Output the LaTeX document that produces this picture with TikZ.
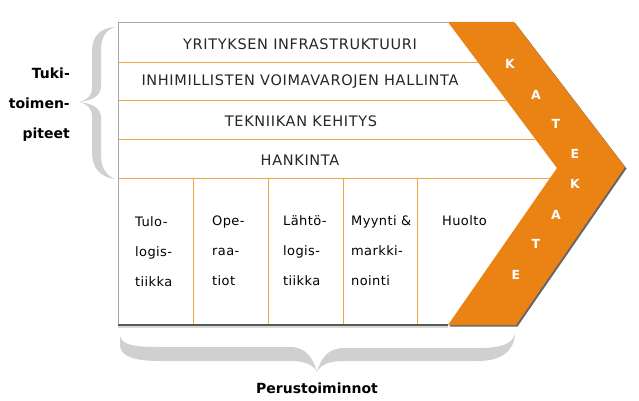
\documentclass[tikz,border=0pt]{standalone}
\usepackage{fontspec}
\setmainfont{DejaVu Sans}
\definecolor{katekorange}{RGB}{234,131,20}
\definecolor{rowline}{RGB}{240,165,70}
\definecolor{bracegray}{RGB}{208,208,208}

\begin{document}
\begin{tikzpicture}[x=1pt,y=-1pt,
    rowtext/.style={font=\fontsize{14.5}{17}\selectfont\addfontfeature{LetterSpace=4.5},text=black!85,inner sep=0pt},
    coltext/.style={font=\fontsize{13}{30}\selectfont\addfontfeature{LetterSpace=3},align=left,anchor=north west,inner sep=0pt},
    sidetext/.style={font=\fontsize{14}{30}\selectfont\bfseries,inner sep=0pt},
    katek/.style={font=\fontsize{12.5}{12.5}\selectfont\bfseries,text=white,inner sep=0pt}]
  \useasboundingbox (0,0) rectangle (639,401);

  % braces
  \fill[bracegray] (115,27) .. controls (100,28) and (92,36) .. (92,52) -- (92,88)
    .. controls (92,96) and (87,100) .. (79,102) .. controls (87,104) and (92,108) .. (92,116)
    -- (92,152) .. controls (92,168) and (100,177) .. (115,179)
    .. controls (106,175) and (101,168) .. (101,155) -- (101,118)
    .. controls (101,110) and (96,104) .. (79,102) .. controls (96,100) and (101,94) .. (101,86)
    -- (101,50) .. controls (101,37) and (106,30) .. (115,27) -- cycle;
  \fill[bracegray] (120,336) .. controls (122,345) and (134,347) .. (160,347) -- (290,347)
    .. controls (306,347) and (313,358) .. (317,372) .. controls (321,358) and (328,348) .. (344,348)
    -- (478,348) .. controls (502,348) and (512,344) .. (515,334)
    .. controls (514,352) and (500,361) .. (478,361) -- (344,361)
    .. controls (330,361) and (321,364) .. (317,372) .. controls (313,364) and (304,361) .. (290,361)
    -- (160,361) .. controls (136,361) and (121,357) .. (120,346) -- cycle;

  % box
  \draw[rowline] (118,62) -- (478,62);
  \draw[rowline] (118,100) -- (506,100);
  \draw[rowline] (118,139) -- (535,139);
  \draw[rowline] (118,178) -- (550,178);
  \foreach \x in {193,268,343,417}
    \draw[rowline] (\x,178) -- (\x,325);
  \draw[black!35] (448,22) -- (118,22) -- (118,325);
  \draw[black!15,line width=2] (118,327) -- (448,327);
  \draw[black!65,line width=1.3] (118,325) -- (448,325);

  % chevron
  \fill[black!60,shift={(1.5,1.5)}] (448,22) -- (514,22) -- (625,167) -- (516,325) -- (448,325) -- (557,168) -- cycle;
  \fill[katekorange] (448,22) -- (514,22) -- (625,167) -- (516,325) -- (448,325) -- (557,168) -- cycle;
  \foreach \ch/\x/\y [count=\i] in {K/510/64,A/536/95,T/556/124,E/575/154,K/575/184,A/556/215,T/536/244,E/516/275}
    \node[katek] (kirjain\i) at (\x,\y) {\ch};

  % texts
  \node[rowtext] (infra) at (300,44) {YRITYKSEN INFRASTRUKTUURI};
  \node[rowtext] (henkilo) at (300,82) {INHIMILLISTEN VOIMAVAROJEN HALLINTA};
  \node[rowtext] (tekniikka) at (301,121) {TEKNIIKAN KEHITYS};
  \node[rowtext] (hankinta) at (300,160) {HANKINTA};

  \node[coltext] (tulo) at (135,216) {Tulo-\\logis-\\tiikka};
  \node[coltext] (operaatiot) at (212,216) {Ope-\\raa-\\tiot};
  \node[coltext] (lahto) at (283,215) {Lähtö-\\logis-\\tiikka};
  \node[coltext] (myynti) at (351,215) {Myynti \&\\markki-\\nointi};
  \node[coltext] (huolto) at (442,215) {Huolto};

  \node[sidetext,align=right,anchor=east] (tuki) at (70,105) {Tuki-\\toimen-\\piteet};
  \node[sidetext] (perus) at (317,388) {Perustoiminnot};
\end{tikzpicture}
\end{document}
